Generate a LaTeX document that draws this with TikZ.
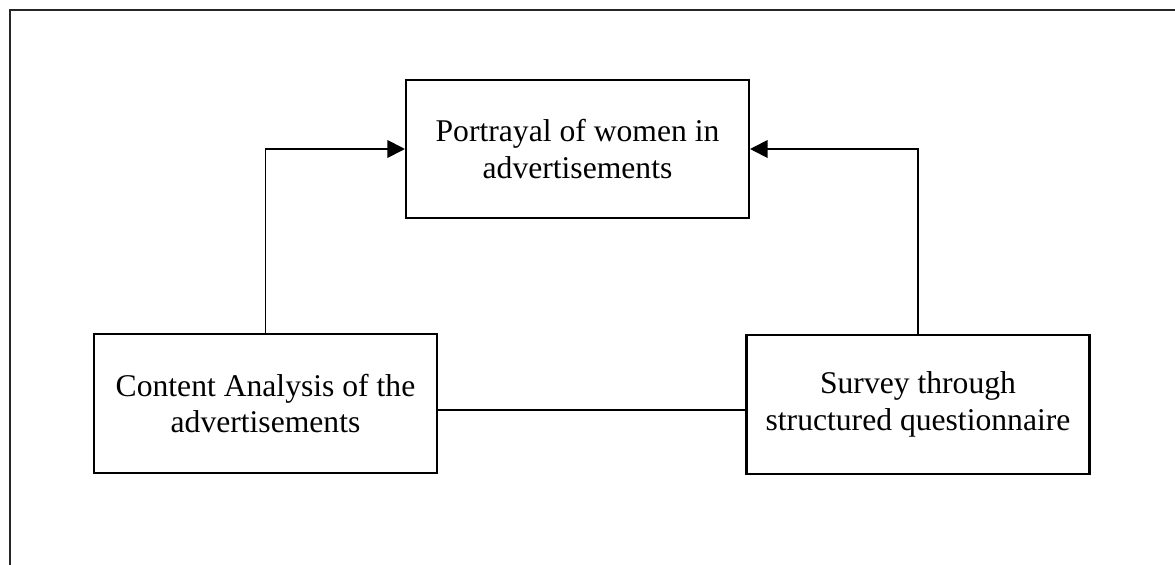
\documentclass[tikz,border=0pt]{standalone}
\usepackage{fontspec}
\setmainfont{Liberation Serif}
\usetikzlibrary{arrows.meta}

\begin{document}
\begin{tikzpicture}[
  x=0.02cm, y=-0.02cm,
  box/.style={rectangle, draw, line width=1.2pt, minimum width=6.86cm,
              minimum height=2.77cm, align=center,
              font=\fontsize{18}{20.8}\selectfont},
  arr/.style={-{Triangle[length=10pt, width=10pt]}, line width=1.1pt},
  link/.style={line width=1.1pt},
  frame/.style={line width=1.5pt, black!85}
]
  \useasboundingbox (0,0) rectangle (1175,564);

  % Outer frame
  \draw[frame] (10,570) -- (10,10) -- (1180,10);

  \node[box] (portrayal) at (577.5, 149) {Portrayal of women in\\advertisements};
  \node[box] (content) at (265.5, 403.5) {Content Analysis of the\\advertisements};
  \node[box] (survey) at (918, 404.5) {Survey through\\structured questionnaire};

  % Connections
  \draw[arr] (content.north) |- (portrayal.west);
  \draw[arr] (survey.north) |- (portrayal.east);
  \draw[link] ([yshift=-0.13cm]content.east) -- ([yshift=-0.11cm]survey.west);
\end{tikzpicture}
\end{document}
